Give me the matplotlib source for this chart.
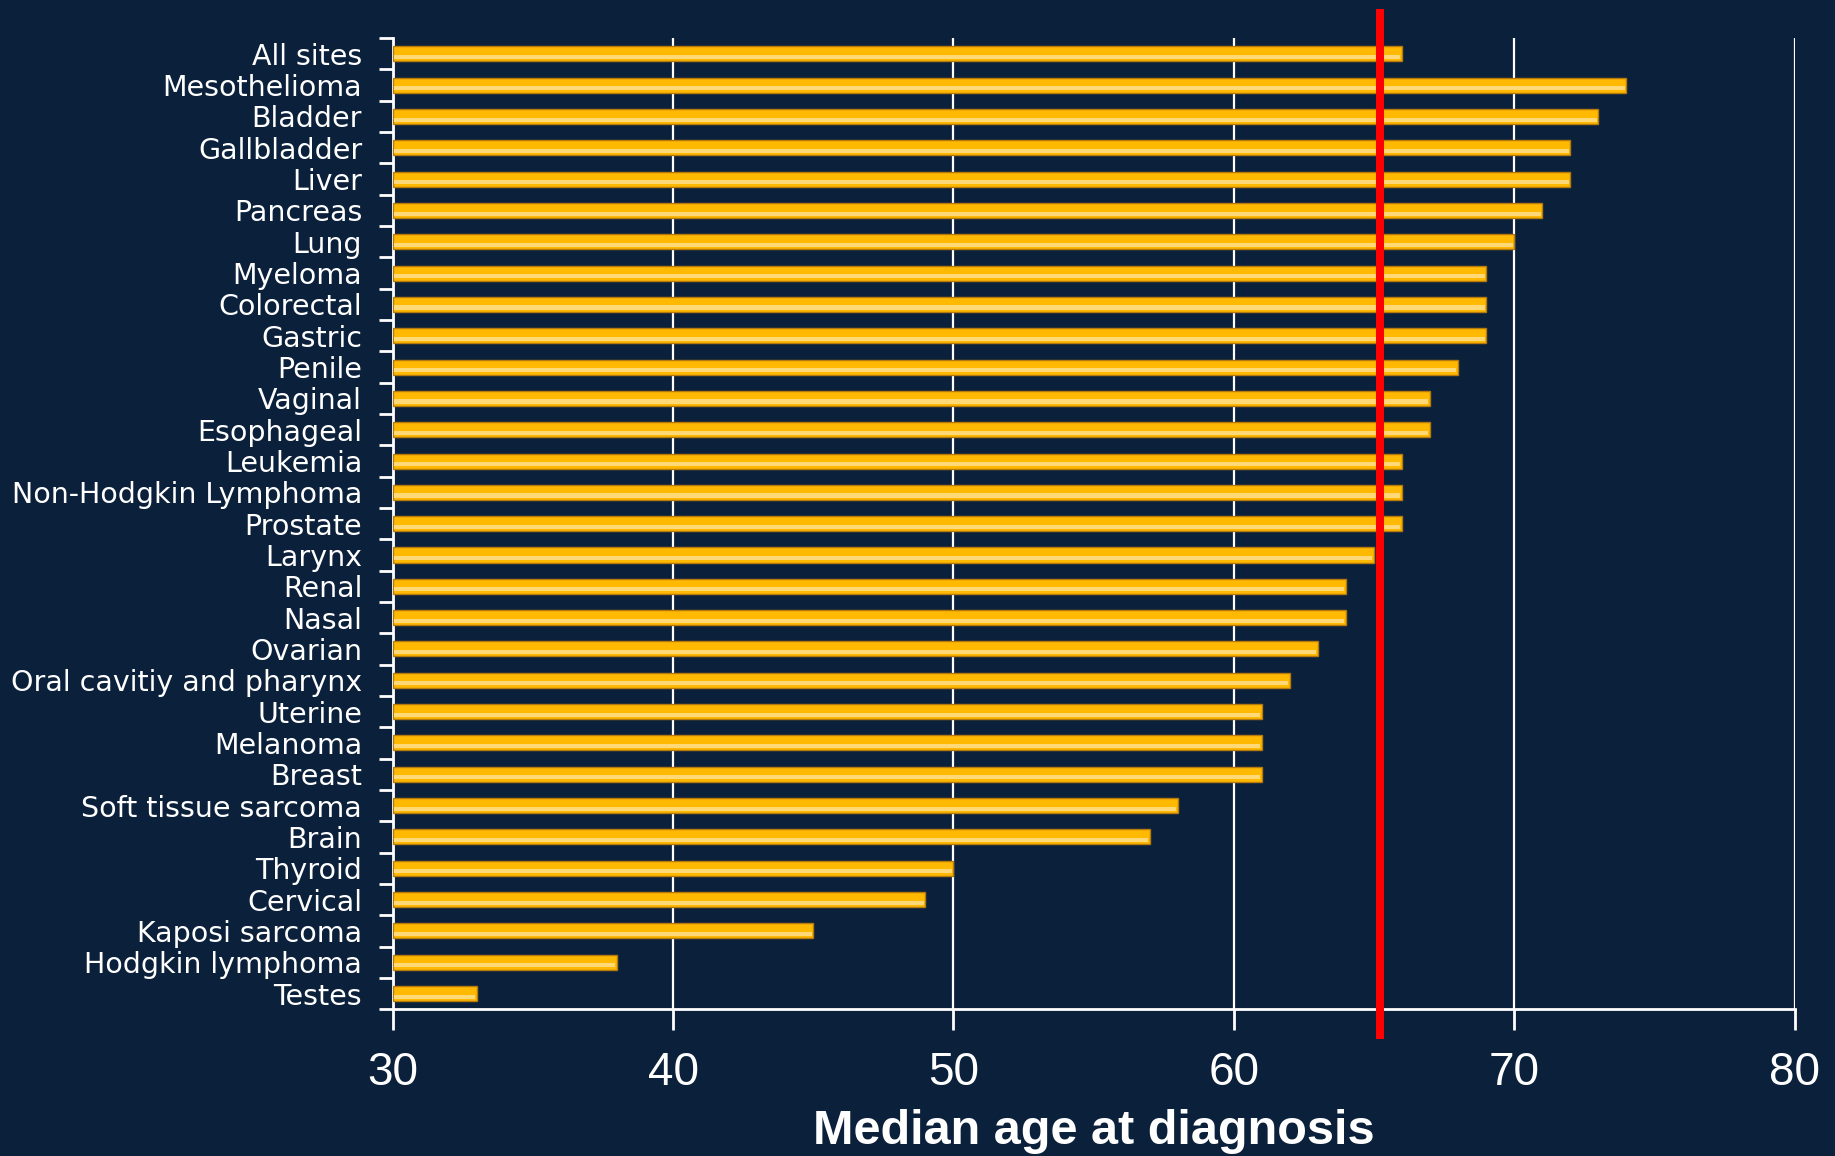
import numpy as np
import matplotlib
matplotlib.use("Agg")
import matplotlib.pyplot as plt

sites = ['All sites', 'Mesothelioma', 'Bladder', 'Gallbladder', 'Liver', 'Pancreas',
         'Lung', 'Myeloma', 'Colorectal', 'Gastric', 'Penile', 'Vaginal', 'Esophageal',
         'Leukemia', 'Non-Hodgkin Lymphoma', 'Prostate', 'Larynx', 'Renal', 'Nasal',
         'Ovarian', 'Oral cavitiy and pharynx', 'Uterine', 'Melanoma', 'Breast',
         'Soft tissue sarcoma', 'Brain', 'Thyroid', 'Cervical', 'Kaposi sarcoma',
         'Hodgkin lymphoma', 'Testes']
median_age = [66, 74, 73, 72, 72, 71, 70, 69, 69, 69, 68, 67, 67, 66, 66, 66, 65,
              64, 64, 63, 62, 61, 61, 61, 58, 57, 50, 49, 45, 38, 33]
ref_age = 65.2
xticks = [30, 40, 50, 60, 70, 80]

bg = '#0b203b'
narrow = ['Liberation Sans Narrow', 'Liberation Sans', 'DejaVu Sans']

fig = plt.figure(figsize=(18.35, 11.56), dpi=100, facecolor=bg)
ax = fig.add_axes([0.214, 0.127, 0.764, 0.840], facecolor=bg)

y = np.arange(len(sites))
ax.barh(y, np.array(median_age) - 30, left=30, height=0.48, color='#ffb900',
        edgecolor='#b5790c', linewidth=1.0, zorder=3)
# lighter lower stripe for the glossy look
ax.barh(y + 0.1, np.array(median_age) - 30.12, left=30.06, height=0.13,
        color='#ffd877', linewidth=0, zorder=4)

ax.plot([ref_age, ref_age], [-1.43, 31.46], color='#ff0000', lw=5.8,
        clip_on=False, zorder=6, solid_capstyle='butt')

ax.set_xlim(30, 80)
ax.set_ylim(len(sites) - 0.5, -0.5)

ax.set_xticks(xticks)
ax.set_xticklabels([str(t) for t in xticks], fontsize=33, color='white', family=narrow)
ax.tick_params(axis='x', length=15, width=2, color='white', pad=15, direction='out')
ax.xaxis.grid(True, color='white', lw=1.6, zorder=1)

ax.set_yticks(np.arange(len(sites) + 1) - 0.5)
ax.set_yticklabels([])
ax.set_yticks(y, minor=True)
ax.set_yticklabels(sites, minor=True, fontsize=20.5, color='white')
ax.tick_params(axis='y', which='major', length=10, width=2, color='white', direction='out')
ax.tick_params(axis='y', which='minor', length=0, pad=22)

for s in ['top', 'right']:
    ax.spines[s].set_visible(False)
for s in ['left', 'bottom']:
    ax.spines[s].set_color('white')
    ax.spines[s].set_linewidth(2)

ax.set_xlabel('Median age at diagnosis', fontsize=35, fontweight='bold',
              color='white', family=narrow, labelpad=10)

fig.savefig('out.png', dpi=100, facecolor=bg)
